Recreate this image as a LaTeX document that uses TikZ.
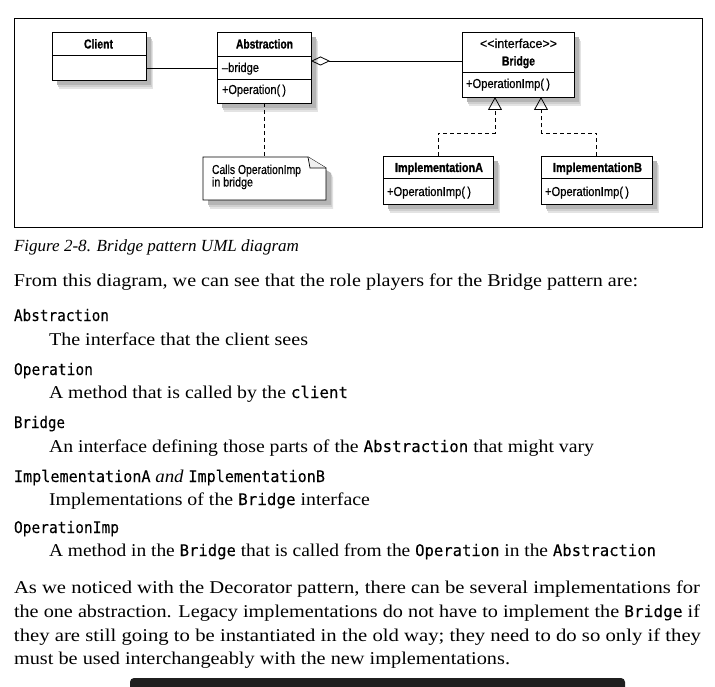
\documentclass[tikz,border=0pt]{standalone}
\usepackage{fontspec}
\usepackage{graphicx}
\usetikzlibrary{arrows.meta,shadows,calc}
\setmainfont{Liberation Serif}
\newfontfamily\dsans[FakeStretch=0.86, FakeBold=0.4]{Liberation Sans}
\newfontfamily\dsansB[FakeStretch=0.84, FakeBold=1]{Liberation Sans}
\newfontfamily\bmono[FakeStretch=0.9, FakeBold=0.12]{DejaVu Sans Mono}
\newcommand\cw[1]{{\bmono\fontsize{16}{20}\selectfont #1}}
\newcommand\fitto[2]{\resizebox{#1pt}{\height}{#2}}
\begin{document}
\begin{tikzpicture}[x=1pt,y=-1pt,
  every node/.style={inner sep=0pt, outer sep=0pt},
  classbox/.style={draw, line width=0.9pt, fill=white, anchor=north west,
     general shadow={shadow xshift=7pt, shadow yshift=-9pt, fill=gray!22},
     general shadow={shadow xshift=6pt, shadow yshift=-7pt, fill=gray!38},
     general shadow={shadow xshift=5pt, shadow yshift=-5pt, fill=gray!58}},
  divl/.style={line width=0.9pt},
  ttl/.style={anchor=base, font=\dsansB\bfseries\fontsize{13}{14}\selectfont},
  mem/.style={anchor=base west, font=\dsans\fontsize{13}{14}\selectfont},
  dashlink/.style={line width=0.8pt, dash pattern=on 4pt off 3pt},
  realize/.style={dashlink, -{Triangle[open, length=13pt, width=14pt, line width=0.8pt]}},
  bodytxt/.style={anchor=base west, font=\fontsize{18}{20}\selectfont}
]
\fill[white] (0,0) rectangle (715,687);
\useasboundingbox (0,0) rectangle (715,687);

% frame
\draw[line width=0.9pt] (14,18) rectangle (702,227);

% classes
\node[classbox, minimum width=94pt, minimum height=48pt] (client) at (52,32) {};
\node[classbox, minimum width=94pt, minimum height=71pt] (abs) at (217,32) {};
\node[classbox, minimum width=112pt, minimum height=65pt] (bridge) at (462,32) {};
\node[classbox, minimum width=110pt, minimum height=48pt] (implA) at (383,156) {};
\node[classbox, minimum width=111pt, minimum height=48pt] (implB) at (541,156) {};

% dividers
\draw[divl] (client.west |- 0,55) -- (client.east |- 0,55);
\draw[divl] (abs.west |- 0,56) -- (abs.east |- 0,56);
\draw[divl] (abs.west |- 0,79) -- (abs.east |- 0,79);
\draw[divl] (bridge.west |- 0,72) -- (bridge.east |- 0,72);
\draw[divl] (implA.west |- 0,178) -- (implA.east |- 0,178);
\draw[divl] (implB.west |- 0,178) -- (implB.east |- 0,178);

% class texts
\node[ttl] (clientT) at (98.5,48.5) {\fitto{29}{Client}};
\node[ttl] (absT) at (264.5,48.5) {\fitto{57}{Abstraction}};
\node[mem] (absA) at (222,72) {\fitto{37}{–bridge}};
\node[mem] (absO) at (222,94) {\fitto{64}{+Operation(\,)}};
\node[ttl, font=\dsans\fontsize{13}{14}\selectfont] (brS) at (518.5,48) {\fitto{77}{<{}<interface>{}>}};
\node[ttl] (brT) at (518.5,65.5) {\fitto{33}{Bridge}};
\node[mem] (brO) at (466,88) {\fitto{84}{+OperationImp(\,)}};
\node[ttl] (implAT) at (439,172) {\fitto{88}{ImplementationA}};
\node[mem] (implAO) at (387,196) {\fitto{84}{+OperationImp(\,)}};
\node[ttl] (implBT) at (597.5,172) {\fitto{89}{ImplementationB}};
\node[mem] (implBO) at (545,196) {\fitto{84}{+OperationImp(\,)}};

% note
\node[minimum width=123pt, minimum height=43pt, anchor=north west] (note) at (203,157) {};
\fill[gray!22] ($(note.north west)+(7,9)$) -- ($(note.north east)+(-11,9)$) -- ($(note.north east)+(7,20)$) -- ($(note.south east)+(7,9)$) -- ($(note.south west)+(7,9)$) -- cycle;
\fill[gray!38] ($(note.north west)+(6,7)$) -- ($(note.north east)+(-12,7)$) -- ($(note.north east)+(6,18)$) -- ($(note.south east)+(6,7)$) -- ($(note.south west)+(6,7)$) -- cycle;
\fill[gray!58] ($(note.north west)+(5,5)$) -- ($(note.north east)+(-13,5)$) -- ($(note.north east)+(5,16)$) -- ($(note.south east)+(5,5)$) -- ($(note.south west)+(5,5)$) -- cycle;
\draw[line width=0.9pt, fill=white] (note.north west) -- ($(note.north east)+(-18,0)$) -- ($(note.north east)+(0,11)$) -- (note.south east) -- (note.south west) -- cycle;
\draw[line width=0.7pt, fill=gray!12] ($(note.north east)+(-18,0)$) -- ($(note.north east)+(-16,11)$) -- ($(note.north east)+(0,11)$);
\node[mem] (noteT1) at (212,174) {\fitto{89}{Calls OperationImp}};
\node[mem] (noteT2) at (212,186.5) {\fitto{41}{in bridge}};

% connectors
\draw[line width=0.8pt] (client.east |- 0,68) -- (abs.west |- 0,68);
\draw[line width=0.8pt, -{Diamond[open, length=19pt, width=9pt, line width=0.8pt]}] (bridge.west |- 0,61) -- (abs.east |- 0,61);
\draw[dashlink] (abs.south) -- (abs.south |- note.north);
\draw[realize] (implA.north) |- (495,133) -- (bridge.south -| 495,0);
\draw[realize] (implB.north) |- (541,133) -- (bridge.south -| 541,0);

% body text
\node[bodytxt, font=\itshape\fontsize{17}{20}\selectfont] (cap) at (14,252) {\fitto{285}{Figure 2-8. Bridge pattern UML diagram}};
\node[bodytxt] (l1) at (14,287) {\fitto{624}{From this diagram, we can see that the role players for the Bridge pattern are:}};
\node[bodytxt] (k1) at (14,321) {\fitto{95}{\cw{Abstraction}}};
\node[bodytxt] (d1) at (49,345) {\fitto{259}{The interface that the client sees}};
\node[bodytxt] (k2) at (14,375) {\fitto{79}{\cw{Operation}}};
\node[bodytxt] (d2) at (49,398) {\fitto{299}{A method that is called by the \cw{client}}};
\node[bodytxt] (k3) at (14,428) {\fitto{51}{\cw{Bridge}}};
\node[bodytxt] (d3) at (49,452) {\fitto{545}{An interface defining those parts of the \cw{Abstraction} that might vary}};
\node[bodytxt] (k4) at (14,482) {\fitto{311}{\cw{ImplementationA} \textit{and} \cw{ImplementationB}}};
\node[bodytxt] (d4) at (49,505) {\fitto{321}{Implementations of the \cw{Bridge} interface}};
\node[bodytxt] (k5) at (14,533) {\fitto{105}{\cw{OperationImp}}};
\node[bodytxt] (d5) at (49,556) {\fitto{607}{A method in the \cw{Bridge} that is called from the \cw{Operation} in the \cw{Abstraction}}};
\node[bodytxt] (p1) at (14,593) {\fitto{686}{As we noticed with the Decorator pattern, there can be several implementations for}};
\node[bodytxt] (p2) at (14,617) {\fitto{686}{the one abstraction. Legacy implementations do not have to implement the \cw{Bridge} if}};
\node[bodytxt] (p3) at (14,641) {\fitto{687}{they are still going to be instantiated in the old way; they need to do so only if they}};
\node[bodytxt] (p4) at (14,664) {\fitto{496}{must be used interchangeably with the new implementations.}};

% bottom bar
\fill[black!88, rounded corners=4pt] (130,700) -- (130,678) -- (625,678) -- (625,700) -- cycle;
\end{tikzpicture}
\end{document}
